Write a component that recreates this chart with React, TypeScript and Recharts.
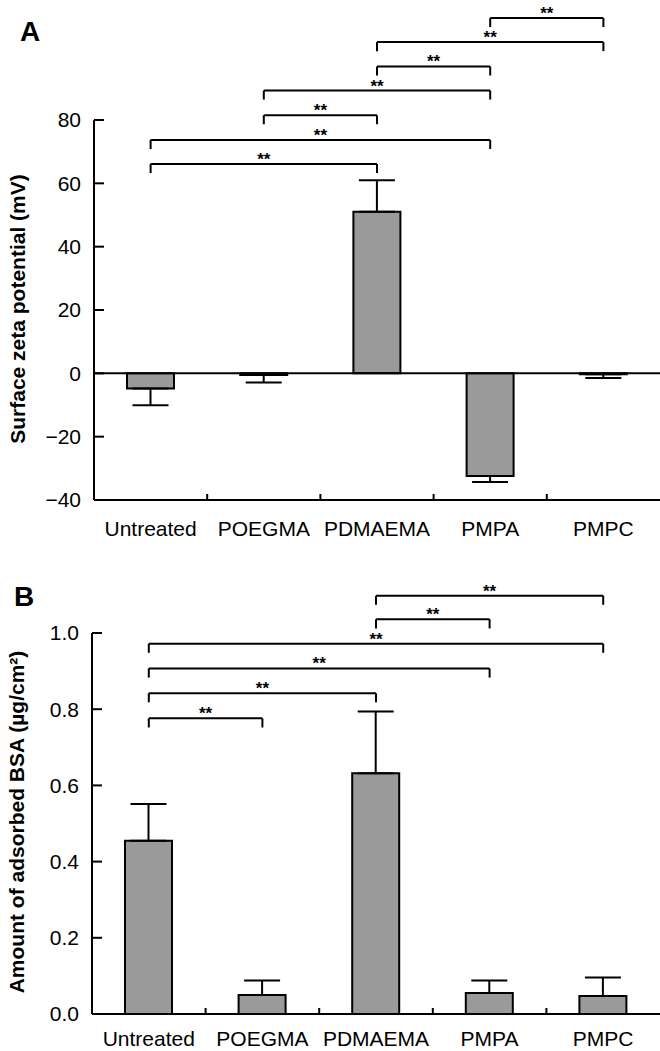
import React from 'react';
import { BarChart, Bar, XAxis, YAxis, ErrorBar, ReferenceLine } from 'recharts';

const categories = ['Untreated', 'POEGMA', 'PDMAEMA', 'PMPA', 'PMPC'];
const zetaMean = [-4.8, -0.5, 51, -32.4, -0.3];
const zetaErr = [5.3, 2.4, 10, 1.9, 1.2];
const bsaMean = [0.455, 0.05, 0.632, 0.055, 0.047];
const bsaErr = [0.096, 0.038, 0.162, 0.033, 0.049];

const zetaTicks = [-40, -20, 0, 20, 40, 60, 80];
const bsaTicks = [0, 0.2, 0.4, 0.6, 0.8, 1.0];
const boundaryTicks = [1, 2, 3, 4];
const centerTicks = categories.map((_, i) => i + 0.5);
const xTicks = [...centerTicks, ...boundaryTicks].sort((a, b) => a - b);

// [from, to, level]
const zetaBrackets: [string, string, number][] = [
  ['Untreated', 'PDMAEMA', 66.1],
  ['Untreated', 'PMPA', 73.7],
  ['POEGMA', 'PDMAEMA', 81.5],
  ['POEGMA', 'PMPA', 89.3],
  ['PDMAEMA', 'PMPA', 96.9],
  ['PDMAEMA', 'PMPC', 104.6],
  ['PMPA', 'PMPC', 112.2],
];
const bsaBrackets: [string, string, number][] = [
  ['Untreated', 'POEGMA', 0.776],
  ['Untreated', 'PDMAEMA', 0.842],
  ['Untreated', 'PMPA', 0.907],
  ['Untreated', 'PMPC', 0.972],
  ['PDMAEMA', 'PMPA', 1.036],
  ['PDMAEMA', 'PMPC', 1.098],
];

const zetaData = categories.map((c, i) => ({
  name: c,
  pos: i + 0.5,
  value: zetaMean[i],
  err: zetaMean[i] < 0 ? [zetaErr[i], 0] : [0, zetaErr[i]],
}));
const bsaData = categories.map((c, i) => ({
  name: c,
  pos: i + 0.5,
  value: bsaMean[i],
  err: [0, bsaErr[i]],
}));

const posOf = (c: string) => categories.indexOf(c) + 0.5;

const FONT = '"Liberation Sans", Arial, Helvetica, sans-serif';

const makeXTick = (dy: number) => (props: any) => {
  const { x, y, payload } = props;
  const v = Number(payload.value);
  if (Number.isInteger(v)) {
    return <line x1={x} x2={x} y1={y} y2={y - 6} stroke="#000" strokeWidth={2} />;
  }
  return (
    <text x={x} y={y + dy} textAnchor="middle" fontSize={21} fill="#000" fontFamily={FONT}>
      {categories[Math.round(v - 0.5)]}
    </text>
  );
};

function renderBrackets(list: [string, string, number][], tip: number, key: string) {
  const out: React.ReactNode[] = [];
  list.forEach(([a, b, lvl], i) => {
    const xa = posOf(a);
    const xb = posOf(b);
    out.push(
      <ReferenceLine
        key={`${key}h${i}`}
        segment={[{ x: xa, y: lvl }, { x: xb, y: lvl }]}
        stroke="#000"
        strokeWidth={2}
        ifOverflow="visible"
        label={{ value: '**', position: 'top', offset: -1, fontSize: 17, fontWeight: 'bold', fill: '#000', fontFamily: FONT }}
      />
    );
    out.push(
      <ReferenceLine
        key={`${key}a${i}`}
        segment={[{ x: xa, y: lvl }, { x: xa, y: lvl - tip }]}
        stroke="#000"
        strokeWidth={2}
        ifOverflow="visible"
      />
    );
    out.push(
      <ReferenceLine
        key={`${key}b${i}`}
        segment={[{ x: xb, y: lvl }, { x: xb, y: lvl - tip }]}
        stroke="#000"
        strokeWidth={2}
        ifOverflow="visible"
      />
    );
  });
  return out;
}

const tickStyle = { fontSize: 21, fill: '#000', fontFamily: FONT };

const xAxis = (labelDy: number, h: number) => (
  <XAxis
    dataKey="pos"
    type="number"
    domain={[0, 5]}
    ticks={xTicks}
    interval={0}
    height={h}
    axisLine={{ stroke: '#000', strokeWidth: 2 }}
    tickLine={false}
    tickSize={0}
    tickMargin={0}
    tick={makeXTick(labelDy)}
  />
);

export default function App() {
  return (
    <div style={{ position: 'absolute', left: 0, top: 0, width: 660, height: 1051, background: '#fff', fontFamily: FONT }}>
      <div style={{ position: 'absolute', left: 0, top: 0 }}>
        <BarChart width={660} height={545} data={zetaData} margin={{ top: 120, right: 0, left: 0, bottom: 0 }} barSize={47}>
          {xAxis(36, 45)}
          <YAxis
            type="number"
            width={94}
            domain={[-40, 80]}
            ticks={zetaTicks}
            interval={0}
            axisLine={{ stroke: '#000', strokeWidth: 2 }}
            tickLine={{ stroke: '#000', strokeWidth: 2 }}
            tickSize={-10}
            tickMargin={23}
            tick={tickStyle}
            tickFormatter={(v: number) => (v < 0 ? `\u2212${Math.abs(v)}` : `${v}`)}
          />
          <ReferenceLine y={0} stroke="#000" strokeWidth={2} />
          <Bar dataKey="value" fill="#9a9a9a" stroke="#000" strokeWidth={2} isAnimationActive={false}>
            <ErrorBar dataKey="err" direction="y" width={18} stroke="#000" strokeWidth={2} isAnimationActive={false} />
          </Bar>
          {renderBrackets(zetaBrackets, 2.85, 'z')}
        </BarChart>
      </div>
      <div style={{ position: 'absolute', left: 0, top: 513 }}>
        <BarChart width={660} height={538} data={bsaData} margin={{ top: 120, right: 0, left: 0, bottom: 0 }} barSize={47}>
          {xAxis(32, 37)}
          <YAxis
            type="number"
            width={92}
            domain={[0, 1]}
            ticks={bsaTicks}
            interval={0}
            axisLine={{ stroke: '#000', strokeWidth: 2 }}
            tickLine={{ stroke: '#000', strokeWidth: 2 }}
            tickSize={-10}
            tickMargin={23}
            tick={tickStyle}
            tickFormatter={(v: number) => v.toFixed(1)}
          />
          <Bar dataKey="value" fill="#9a9a9a" stroke="#000" strokeWidth={2} isAnimationActive={false}>
            <ErrorBar dataKey="err" direction="y" width={18} stroke="#000" strokeWidth={2} isAnimationActive={false} />
          </Bar>
          {renderBrackets(bsaBrackets, 0.024, 'b')}
        </BarChart>
      </div>
      <svg width={660} height={1051} style={{ position: 'absolute', left: 0, top: 0, pointerEvents: 'none' }}>
        <text x={20} y={41} fontSize={28} fontWeight="bold" fill="#000" fontFamily={FONT}>A</text>
        <text x={14} y={606} fontSize={28} fontWeight="bold" fill="#000" fontFamily={FONT}>B</text>
        <text
          x={0}
          y={0}
          transform="translate(25,309) rotate(-90)"
          textAnchor="middle"
          fontSize={21}
          fontWeight="bold"
          fill="#000"
          fontFamily={FONT}
        >
          Surface zeta potential (mV)
        </text>
        <text
          x={0}
          y={0}
          transform="translate(24,822) rotate(-90)"
          textAnchor="middle"
          fontSize={21}
          fontWeight="bold"
          fill="#000"
          fontFamily={FONT}
        >
          {'Amount of adsorbed BSA (\u00b5g/cm\u00b2)'}
        </text>
      </svg>
    </div>
  );
}
